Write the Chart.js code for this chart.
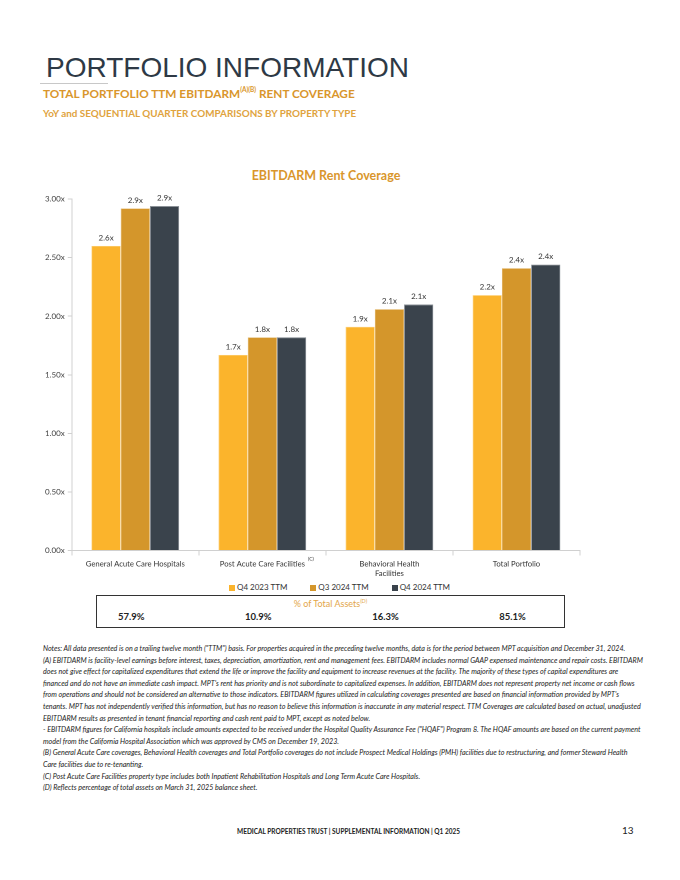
<!DOCTYPE html>
<html>
<head>
<meta charset="utf-8">
<script src="https://cdn.jsdelivr.net/npm/chart.js@4.4.1/dist/chart.umd.min.js"></script>
<style>
  body { margin: 0; width: 680px; height: 880px; background: #fff; position: relative; overflow: hidden; font-family: Lato, "Noto Sans", sans-serif; }
  .abs { position: absolute; white-space: nowrap; }
  #head { left: 46px; top: 54px; font-family: "Liberation Sans", Arial, sans-serif; font-size: 28px; line-height: 28px; color: #2e3945; }
  #rule { left: 40px; top: 83px; width: 68px; height: 1px; background: #c8c8c8; }
  #sub1 { left: 43px; top: 87px; font-size: 11.8px; line-height: 14px; font-weight: bold; color: #d9962c; }
  #sub1 sup { font-size: 6.5px; vertical-align: 6px; line-height: 0; }
  #sub2 { left: 43px; top: 107px; font-size: 9.9px; line-height: 12px; font-weight: bold; color: #e0a33e; }
  #ctitle { left: 326px; top: 168px; transform: translateX(-50%); font-size: 12.5px; font-weight: bold; color: #d9962c; }
  #wrap { position: absolute; left: 36px; top: 186px; width: 588px; height: 396px; }
  #legend { left: 229px; top: 582px; display: flex; gap: 23px; font-size: 8px; color: #333; }
  #legend span.sq { display: inline-block; width: 6px; height: 6px; margin-right: 2px; vertical-align: -0.5px; }
  #box { position: absolute; left: 96px; top: 595px; width: 467px; height: 31px; border: 1.5px solid #333; }
  #boxtitle { position: absolute; left: 0; width: 100%; top: 2px; text-align: center; font-size: 9px; color: #e3a64a; }
  #boxtitle sup { font-size: 5.5px; vertical-align: 4px; line-height: 0; }
  .pct { position: absolute; top: 15px; font-size: 9.5px; font-weight: bold; color: #222; transform: translateX(-50%); }
  #notes { left: 43px; top: 643px; font-size: 7.15px; line-height: 11.6px; font-style: italic; color: #222; }
  #foot { left: 237px; top: 828px; font-size: 6.5px; font-weight: bold; color: #222; }
  #page { left: 622px; top: 824px; font-size: 10px; color: #222; }
</style>
</head>
<body>
<div class="abs" id="head">PORTFOLIO INFORMATION</div>
<div class="abs" id="rule"></div>
<div class="abs" id="sub1">TOTAL PORTFOLIO TTM EBITDARM<sup>(A)(B)</sup> RENT COVERAGE</div>
<div class="abs" id="sub2">YoY and SEQUENTIAL QUARTER COMPARISONS BY PROPERTY TYPE</div>
<div class="abs" id="ctitle">EBITDARM Rent Coverage</div>
<div id="wrap"><canvas id="chartCoverage"></canvas></div>
<div class="abs" id="legend"></div>
<div id="box">
  <div id="boxtitle">% of Total Assets<sup>(D)</sup></div>
</div>
<div class="abs" id="notes">
<div>Notes: All data presented is on a trailing twelve month ("TTM") basis. For properties acquired in the preceding twelve months, data is for the period between MPT acquisition and December 31, 2024.</div>
<div>(A) EBITDARM is facility-level earnings before interest, taxes, depreciation, amortization, rent and management fees. EBITDARM includes normal GAAP expensed maintenance and repair costs. EBITDARM</div>
<div>does not give effect for capitalized expenditures that extend the life or improve the facility and equipment to increase revenues at the facility. The majority of these types of capital expenditures are</div>
<div>financed and do not have an immediate cash impact. MPT's rent has priority and is not subordinate to capitalized expenses. In addition, EBITDARM does not represent property net income or cash flows</div>
<div>from operations and should not be considered an alternative to those indicators. EBITDARM figures utilized in calculating coverages presented are based on financial information provided by MPT's</div>
<div>tenants. MPT has not independently verified this information, but has no reason to believe this information is inaccurate in any material respect. TTM Coverages are calculated based on actual, unadjusted</div>
<div>EBITDARM results as presented in tenant financial reporting and cash rent paid to MPT, except as noted below.</div>
<div>- EBITDARM figures for California hospitals include amounts expected to be received under the Hospital Quality Assurance Fee ("HQAF") Program 8. The HQAF amounts are based on the current payment</div>
<div>model from the California Hospital Association which was approved by CMS on December 19, 2023.</div>
<div>(B) General Acute Care coverages, Behavioral Health coverages and Total Portfolio coverages do not include Prospect Medical Holdings (PMH) facilities due to restructuring, and former Steward Health</div>
<div>Care facilities due to re-tenanting.</div>
<div>(C) Post Acute Care Facilities property type includes both Inpatient Rehabilitation Hospitals and Long Term Acute Care Hospitals.</div>
<div>(D) Reflects percentage of total assets on March 31, 2025 balance sheet.</div>
</div>
<div class="abs" id="foot">MEDICAL PROPERTIES TRUST | SUPPLEMENTAL INFORMATION | Q1 2025</div>
<div class="abs" id="page">13</div>

<script>
var categories = ['General Acute Care Hospitals', 'Post Acute Care Facilities', ['Behavioral Health', 'Facilities'], 'Total Portfolio']
var q4_2023 = [2.60, 1.67, 1.91, 2.18]
var q3_2024 = [2.92, 1.82, 2.06, 2.41]
var q4_2024 = [2.94, 1.82, 2.10, 2.44]
var seriesNames = ['Q4 2023 TTM', 'Q3 2024 TTM', 'Q4 2024 TTM']
var seriesColors = ['#fbb42c', '#d4962b', '#3a434c']
var pctTotalAssets = ['57.9%', '10.9%', '16.3%', '85.1%']
var yTicks = [0, 0.5, 1, 1.5, 2, 2.5, 3]

var box = document.getElementById('box')

// value labels above each bar
var barLabels = {
  id: 'barLabels',
  afterDatasetsDraw: function (chart) {
    var ctx = chart.ctx
    ctx.save()
    ctx.font = '8px Lato, sans-serif'
    ctx.fillStyle = '#333'
    ctx.textAlign = 'center'
    ctx.textBaseline = 'bottom'
    chart.data.datasets.forEach(function (ds, i) {
      chart.getDatasetMeta(i).data.forEach(function (bar, j) {
        ctx.fillText(ds.data[j].toFixed(1) + 'x', bar.x, bar.y - 4)
      })
    })
    ctx.restore()
  }
}

// superscript (C) after the post acute label, legend and the % of total assets row
var extras = {
  id: 'extras',
  afterDraw: function (chart) {
    var ctx = chart.ctx
    var x = chart.scales.x
    var px = x.getPixelForValue(1)
    ctx.save()
    ctx.font = '7.7px Lato, sans-serif'
    var w = ctx.measureText(categories[1]).width
    ctx.font = '5px Lato, sans-serif'
    ctx.fillStyle = '#333'
    ctx.textBaseline = 'top'
    ctx.fillText('(C)', px + w / 2 + 3, x.top + 6)
    ctx.restore()
    if (!box.dataset.done) {
      var wrapLeft = document.getElementById('wrap').offsetLeft
      pctTotalAssets.forEach(function (p, i) {
        var d = document.createElement('div')
        d.className = 'pct'
        d.textContent = p
        d.style.left = (wrapLeft + x.getPixelForValue(i) - 96 - 5) + 'px'
        box.appendChild(d)
      })
      var lg = document.getElementById('legend')
      chart.data.datasets.forEach(function (ds) {
        var item = document.createElement('div')
        item.innerHTML = '<span class="sq" style="background:' + ds.backgroundColor + '"></span>' + ds.label
        lg.appendChild(item)
      })
      box.dataset.done = '1'
    }
  }
}

var coverage = document.getElementById('chartCoverage').getContext('2d')

var chart = new Chart(coverage, {
  type: 'bar',
  data: {
    labels: categories,
    datasets: [
      {
        label: seriesNames[0],
        backgroundColor: seriesColors[0],
        borderColor: '#fdd68a',
        borderWidth: 0.6,
        data: q4_2023,
      },
      {
        label: seriesNames[1],
        backgroundColor: seriesColors[1],
        borderColor: '#e8c383',
        borderWidth: 0.6,
        data: q3_2024,
      },
      {
        label: seriesNames[2],
        backgroundColor: seriesColors[2],
        borderColor: '#8a9097',
        borderWidth: 0.8,
        data: q4_2024,
      },
    ],
  },
  options: {
    responsive: true,
    maintainAspectRatio: false,
    animation: false,
    devicePixelRatio: 2,
    categoryPercentage: 0.69,
    barPercentage: 1.0,
    layout: { padding: { top: 13, right: 44, left: 6, bottom: 0 } },
    plugins: {
      title: { display: false },
      tooltip: { enabled: false },
      legend: { display: false },
    },
    scales: {
      x: {
        grid: { display: true, drawOnChartArea: false, tickLength: 5, color: '#d0d0d0' },
        border: { color: '#d0d0d0' },
        ticks: { color: '#333', font: { family: 'Lato', size: 7.7 }, padding: 4, maxRotation: 0 },
      },
      y: {
        min: 0,
        max: 3,
        afterBuildTicks: function (axis) {
          axis.ticks = yTicks.map(function (v) { return { value: v } })
        },
        grid: { display: true, drawOnChartArea: false, tickLength: 4, color: '#d0d0d0' },
        border: { color: '#d0d0d0' },
        ticks: {
          color: '#444',
          font: { family: 'Lato', size: 8 },
          padding: 3,
          callback: function (v) { return v.toFixed(2) + 'x' },
        },
      },
    },
  },
  plugins: [barLabels, extras],
})
</script>
</body>
</html>
